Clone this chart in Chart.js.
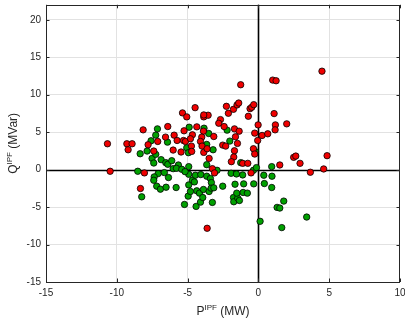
<!DOCTYPE html>
<html>
<head>
<meta charset="utf-8">
<script src="https://cdn.jsdelivr.net/npm/chart.js@4/dist/chart.umd.min.js"></script>
<style>
  html, body { margin: 0; padding: 0; background: #fff; }
  #wrap { width: 405px; height: 324px; }
</style>
</head>
<body>
<div id="wrap"><canvas id="c" width="405" height="324"></canvas></div>
<script>
// Active (P) and reactive (Q) power from the IPF results, split into two groups
const redP = [-10.66,-10.47,-9.29,-9.2,-8.92,-8.14,-8.33,-8.05,-7.79,-7.39,-7.11,-6.56,-6.4,-5.95,-6.02,-5.36,-5.06,-5.25,-5.74,-5.29,-5.15,-5.46,-4.47,-4.35,-4.66,-4.8,-4.73,-4.71,-3.86,-3.55,-3.86,-3.88,-4.0,-4.09,-3.98,-3.86,-3.62,-3.48,-3.15,-3.25,-3.1,-3.62,-2.68,-2.8,-2.26,-2.12,-2.52,-2.31,-2.42,-1.76,-1.51,-1.39,-1.25,-1.69,-1.36,-1.62,-1.48,-1.69,-1.74,-1.91,-1.11,-0.75,-0.52,-0.71,-0.59,-0.47,-0.33,-0.26,-0.35,-0.26,-0.02,-0.05,0.26,0.66,1.01,1.25,1.11,1.2,1.18,2.0,1.51,2.49,2.64,2.94,3.67,4.49,4.85,4.61];
const redQ = [3.45,-0.22,3.45,2.65,3.45,5.31,-2.52,-0.44,3.32,2.48,3.76,4.34,5.75,4.6,2.61,7.57,7.04,5.18,3.89,3.89,3.76,2.35,8.27,5.71,4.65,4.12,3.14,2.43,7.04,7.26,7.3,5.13,4.34,3.76,3.14,2.3,2.79,1.5,4.42,0.13,-0.44,-7.83,6.68,6.19,8.45,7.52,3.27,3.14,5.75,8.05,8.63,8.89,11.33,5.44,5.13,4.38,3.5,2.52,1.68,1.06,0.84,0.84,-0.44,7.12,8.14,8.32,8.67,4.87,2.79,2.08,5.97,3.89,4.56,4.78,11.95,11.86,7.48,5.97,5.31,6.11,0.62,1.64,1.81,0.84,-0.35,13.14,1.86,0.09];

const greenP = [-8.35,-8.52,-8.24,-7.86,-7.58,-7.51,-7.39,-7.25,-7.13,-7.25,-7.08,-7.36,-7.39,-7.18,-6.92,-6.87,-6.54,-6.42,-6.4,-6.64,-6.35,-6.52,-6.12,-6.02,-5.81,-5.65,-5.79,-5.41,-5.06,-4.94,-4.92,-4.89,-4.92,-5.18,-5.22,-4.96,-4.92,-4.8,-4.66,-4.52,-4.45,-4.35,-4.4,-4.16,-4.07,-4.09,-3.88,-3.93,-3.84,-3.65,-3.51,-3.65,-3.65,-3.39,-3.32,-3.48,-3.34,-3.2,-3.25,-3.15,-2.92,-2.52,-2.21,-2.02,-1.93,-1.76,-1.74,-1.65,-1.55,-1.46,-1.53,-1.34,-1.25,-1.11,-1.04,-1.08,-0.78,-0.33,-0.35,-0.21,-0.14,0.12,0.38,0.42,0.94,0.96,0.94,1.32,1.51,1.79,1.65,3.41];
const greenQ = [2.12,-0.22,-3.63,2.48,3.85,1.5,0.88,4.6,5.44,2.04,-0.53,-0.97,-1.42,-2.21,-2.61,1.33,0.93,3.67,0.71,-0.4,-1.06,-2.35,1.19,0.13,-2.39,0.62,0.18,0.04,2.92,2.26,0.4,5.66,-0.62,-0.27,-4.65,-3.54,-2.04,-2.92,-1.42,-1.64,-0.75,-2.83,-4.91,-3.14,-0.66,-4.34,-2.65,-3.72,5.53,3.36,4.82,0.66,-0.88,-1.19,-1.73,-2.92,-2.48,2.65,-4.38,-2.43,-0.09,-2.21,5.27,3.81,-0.49,-3.72,-4.29,-1.95,-0.58,-3.81,-3.14,-4.12,0.93,-0.71,-1.9,-3.05,-3.14,-1.9,-0.09,2.39,0.27,-6.9,-0.75,-1.86,0.4,-0.88,-2.39,-5.04,-5.13,-4.2,-7.74,-6.33];

const xTicks = [-15, -10, -5, 0, 5, 10];
const yTicks = [-15, -10, -5, 0, 5, 10, 15, 20];

const toPoints = (xs, ys) => xs.map((x, i) => ({ x: x, y: ys[i] }));

const FONT = '"Liberation Sans", Arial, Helvetica, sans-serif';
const TEXT = '#262626';

// Box frame, zero axes, inward tick marks and axis titles with superscripts
const framePlugin = {
  id: 'frame',
  beforeDatasetsDraw(chart) {
    const { ctx, chartArea: a, scales } = chart;
    const x0 = Math.round(scales.x.getPixelForValue(0)) + 0.5;
    const y0 = Math.round(scales.y.getPixelForValue(0)) + 0.5;
    ctx.save();
    ctx.strokeStyle = '#000';
    ctx.lineWidth = 1.6;
    ctx.beginPath();
    ctx.moveTo(x0, a.top); ctx.lineTo(x0, a.bottom);
    ctx.moveTo(a.left, y0); ctx.lineTo(a.right, y0);
    ctx.stroke();
    ctx.restore();
  },
  afterDraw(chart) {
    const { ctx, chartArea: a, scales } = chart;
    ctx.save();
    ctx.strokeStyle = '#262626';
    ctx.lineWidth = 1;
    ctx.strokeRect(Math.round(a.left) + 0.5, Math.round(a.top) + 0.5,
                   Math.round(a.right - a.left) - 1, Math.round(a.bottom - a.top));
    const tl = 3.5;
    ctx.beginPath();
    xTicks.forEach(v => {
      const px = Math.round(scales.x.getPixelForValue(v)) + 0.5;
      ctx.moveTo(px, a.bottom); ctx.lineTo(px, a.bottom - tl);
      ctx.moveTo(px, a.top); ctx.lineTo(px, a.top + tl);
    });
    yTicks.forEach(v => {
      const py = Math.round(scales.y.getPixelForValue(v)) + 0.5;
      ctx.moveTo(a.left, py); ctx.lineTo(a.left + tl, py);
      ctx.moveTo(a.right, py); ctx.lineTo(a.right - tl, py);
    });
    ctx.stroke();

    // axis title: base letter, raised superscript, then unit
    function drawTitle(base, sup, unit) {
      ctx.font = '12px ' + FONT;
      const wb = ctx.measureText(base).width;
      const wu = ctx.measureText(unit).width;
      ctx.font = '8px ' + FONT;
      const ws = ctx.measureText(sup).width;
      const total = wb + ws + wu;
      let x = -total / 2;
      ctx.fillStyle = TEXT;
      ctx.textBaseline = 'alphabetic';
      ctx.textAlign = 'left';
      ctx.font = '12px ' + FONT;
      ctx.fillText(base, x, 0); x += wb;
      ctx.font = '8px ' + FONT;
      ctx.fillText(sup, x, -5); x += ws;
      ctx.font = '12px ' + FONT;
      ctx.fillText(unit, x, 0);
    }
    ctx.save();
    ctx.translate((a.left + a.right) / 2, 315);
    drawTitle('P', 'IPF', ' (MW)');
    ctx.restore();
    ctx.save();
    ctx.translate(17, (a.top + a.bottom) / 2);
    ctx.rotate(-Math.PI / 2);
    drawTitle('Q', 'IPF', ' (MVar)');
    ctx.restore();
    ctx.restore();
  }
};

new Chart(document.getElementById('c'), {
  type: 'scatter',
  data: {
    datasets: [
      {
        data: toPoints(redP, redQ),
        backgroundColor: '#f00000',
        borderColor: '#000',
        borderWidth: 0.8,
        pointRadius: 3.2
      },
      {
        data: toPoints(greenP, greenQ),
        backgroundColor: '#00a000',
        borderColor: '#000',
        borderWidth: 0.8,
        pointRadius: 3.2
      }
    ]
  },
  options: {
    responsive: false,
    animation: false,
    devicePixelRatio: 1,
    layout: { padding: { top: 4, right: 5, left: 0, bottom: 0 } },
    plugins: { legend: { display: false }, tooltip: { enabled: false } },
    scales: {
      x: {
        type: 'linear',
        min: -15, max: 10,
        afterFit(s) { s.height = 42; s.paddingLeft = 0; s.paddingRight = 0; },
        afterBuildTicks(s) { s.ticks = xTicks.map(v => ({ value: v })); },
        ticks: { color: TEXT, font: { family: FONT, size: 10 }, padding: 5, maxRotation: 0 },
        grid: {
          drawTicks: false,
          color: ctx => (ctx.tick && (ctx.tick.value === 0 || ctx.tick.value === -15 || ctx.tick.value === 10)) ? 'rgba(0,0,0,0)' : '#e2e2e2',
          lineWidth: 1
        },
        border: { display: false }
      },
      y: {
        type: 'linear',
        min: -15, max: 22,
        afterFit(s) { s.width = 46; s.paddingTop = 0; s.paddingBottom = 0; },
        afterBuildTicks(s) { s.ticks = yTicks.map(v => ({ value: v })); },
        ticks: { color: TEXT, font: { family: FONT, size: 10 }, padding: 5 },
        grid: {
          drawTicks: false,
          color: ctx => (ctx.tick && (ctx.tick.value === 0 || ctx.tick.value === -15)) ? 'rgba(0,0,0,0)' : '#e2e2e2',
          lineWidth: 1
        },
        border: { display: false }
      }
    }
  },
  plugins: [framePlugin]
});
</script>
</body>
</html>
